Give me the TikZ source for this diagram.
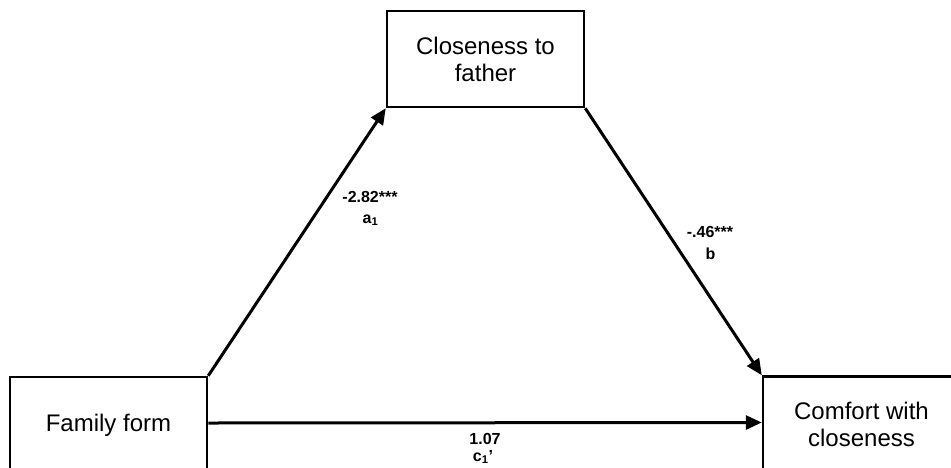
\documentclass[tikz,border=0pt]{standalone}
\usepackage{fontspec}
\setmainfont{Liberation Sans}
\usetikzlibrary{arrows.meta}
\begin{document}
\begin{tikzpicture}[x=1pt,y=-1pt,
  box/.style={draw,line width=2.5pt,minimum width=197pt,minimum height=96pt,inner sep=0pt,align=center,font=\fontsize{24}{27}\selectfont},
  arr/.style={line width=3pt,-{Triangle[length=16pt,width=14pt]}},
  lab/.style={anchor=base,inner sep=0pt,font=\fontsize{16}{20}\selectfont\bfseries}]
\useasboundingbox (0,0) rectangle (951,467);
\clip (0,0) rectangle (951,467);
\node[box] (father) at (485.5,59) {Closeness to\\father};
\node[box] (family) at (108.5,425) {Family form};
\node[box] (comfort) at (861.5,424.5) {Comfort with\\closeness};
\draw[arr] (family.north east) -- (father.south west);
\draw[arr] (father.south east) -- (comfort.north west);
\draw[arr] ([yshift=2pt]family.east) -- ([yshift=2pt]comfort.west);
\node[lab] (av) at (370,202) {-2.82***};
\node[lab] (an) at (370.5,223) {a\textsubscript{1}};
\node[lab] (bv) at (710,237) {-.46***};
\node[lab] (bn) at (710.5,259) {b};
\node[lab] (cv) at (485,444) {1.07};
\node[lab] (cn) at (483,461) {c\textsubscript{1}'};
\end{tikzpicture}
\end{document}
